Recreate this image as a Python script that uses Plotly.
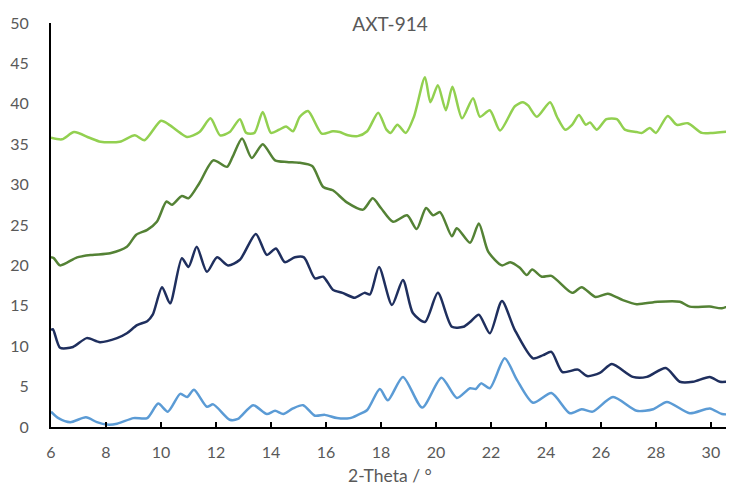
import plotly.graph_objects as go

# Light blue (bottom) series
x_blue = [6.0, 6.27, 6.7, 7.27, 7.67, 8.04, 8.4, 9.0, 9.5, 9.9, 10.25, 10.7, 10.95, 11.2, 11.67, 11.9,
          12.5, 12.8, 13.35, 13.85, 14.15, 14.45, 14.8, 15.17, 15.6, 15.96, 16.4, 16.87, 17.16, 17.5,
          17.96, 18.25, 18.8, 19.5, 20.2, 20.76, 21.24, 21.45, 21.64, 21.96, 22.5, 22.95, 23.53, 24.2,
          24.87, 25.3, 25.7, 26.44, 27.3, 27.9, 28.4, 29.23, 29.96, 30.4, 30.84]
y_blue = [1.9, 1.1, 0.6, 1.2, 0.6, 0.3, 0.4, 1.1, 1.1, 2.9, 1.9, 4.1, 3.7, 4.6, 2.5, 2.8,
          0.9, 1.0, 2.7, 1.6, 2.0, 1.6, 2.3, 2.7, 1.4, 1.5, 1.1, 1.1, 1.5, 2.1,
          4.7, 3.3, 6.2, 2.4, 6.1, 3.6, 4.8, 4.7, 5.4, 4.8, 8.5, 5.8, 3.0, 4.2,
          1.7, 2.2, 1.9, 3.7, 2.0, 2.2, 3.1, 1.7, 2.3, 1.6, 1.6]

# Dark navy series
x_navy = [6.0, 6.07, 6.33, 6.8, 7.3, 7.78, 8.4, 8.76, 9.13, 9.5, 9.7, 10.04, 10.33, 10.76, 11.0, 11.3,
          11.67, 12.04, 12.44, 12.87, 13.45, 13.85, 14.18, 14.5, 14.87, 15.2, 15.6, 15.9, 16.25, 16.6,
          17.05, 17.4, 17.6, 17.93, 18.4, 18.8, 19.16, 19.6, 20.07, 20.58, 21.0, 21.24, 21.56, 21.96,
          22.4, 22.87, 23.53, 23.9, 24.2, 24.6, 25.16, 25.5, 25.96, 26.4, 27.16, 27.67, 28.36, 28.87,
          29.35, 29.96, 30.33, 30.84]
y_navy = [12.0, 12.1, 9.8, 9.9, 11.0, 10.5, 11.0, 11.6, 12.6, 13.1, 13.9, 17.3, 15.3, 20.9, 19.8, 22.3,
          19.2, 21.0, 20.0, 20.7, 23.9, 21.3, 22.1, 20.4, 21.0, 21.0, 18.4, 18.6, 17.0, 16.6,
          16.0, 16.6, 16.4, 19.8, 15.1, 18.2, 14.1, 13.0, 16.6, 12.4, 12.4, 13.0, 13.9, 11.6,
          15.6, 12.0, 8.5, 8.9, 9.3, 6.8, 7.1, 6.3, 6.7, 7.8, 6.2, 6.2, 7.3, 5.6,
          5.6, 6.2, 5.6, 5.7]

# Dark green series
x_dgreen = [6.0, 6.1, 6.33, 6.95, 7.5, 8.15, 8.76, 9.1, 9.5, 9.85, 10.2, 10.4, 10.76, 11.0, 11.4, 11.9,
            12.4, 12.6, 12.95, 13.3, 13.7, 14.15, 14.58, 15.05, 15.5, 15.9, 16.25, 16.76, 17.35, 17.7,
            18.0, 18.44, 18.95, 19.3, 19.64, 19.9, 20.15, 20.58, 20.76, 21.24, 21.56, 21.9, 22.4, 22.7,
            23.05, 23.3, 23.5, 23.85, 24.2, 24.95, 25.3, 25.8, 26.25, 26.8, 27.3, 28.07, 28.87, 29.23,
            29.96, 30.4, 30.84]
y_dgreen = [21.0, 20.9, 20.0, 21.0, 21.3, 21.5, 22.3, 23.8, 24.4, 25.4, 27.9, 27.5, 28.6, 28.3, 30.2, 33.0,
            32.2, 33.4, 35.7, 33.3, 35.0, 33.0, 32.8, 32.7, 32.3, 29.7, 29.3, 27.8, 26.9, 28.3,
            27.1, 25.4, 26.2, 24.5, 27.1, 26.2, 26.6, 23.6, 24.6, 22.8, 25.2, 21.7, 20.0, 20.4,
            19.7, 18.8, 19.5, 18.6, 18.7, 16.6, 17.3, 16.1, 16.5, 15.7, 15.2, 15.5, 15.5, 14.9,
            14.9, 14.7, 15.3]

# Light green (top) series
x_lgreen = [6.0, 6.4, 6.84, 7.4, 7.8, 8.5, 9.05, 9.4, 10.0, 10.3, 10.7, 10.95, 11.4, 11.8, 12.15, 12.5,
            12.87, 13.1, 13.4, 13.7, 14.0, 14.3, 14.55, 14.8, 15.05, 15.35, 15.85, 16.25, 16.5, 16.8,
            17.15, 17.5, 17.9, 18.2, 18.35, 18.6, 18.9, 19.2, 19.6, 19.8, 20.07, 20.36, 20.6, 20.95,
            21.35, 21.6, 21.96, 22.33, 22.87, 23.16, 23.35, 23.67, 24.15, 24.4, 24.7, 24.95, 25.2,
            25.45, 25.6, 25.85, 26.2, 26.58, 26.87, 27.3, 27.5, 27.78, 28.0, 28.43, 28.76, 29.16,
            29.67, 30.07, 30.44, 30.84]
y_lgreen = [35.8, 35.6, 36.5, 35.8, 35.3, 35.3, 36.1, 35.5, 37.9, 37.4, 36.4, 35.9, 36.5, 38.2, 36.1, 36.5,
            38.1, 36.4, 36.4, 39.0, 36.4, 36.8, 37.2, 36.6, 38.4, 39.1, 36.3, 36.6, 36.5, 36.1,
            36.0, 36.6, 38.9, 36.8, 36.4, 37.4, 36.4, 38.4, 43.3, 40.2, 42.3, 39.2, 42.1, 38.2,
            40.7, 38.4, 39.2, 36.7, 39.7, 40.2, 39.8, 38.4, 40.2, 38.4, 36.8, 37.4, 38.6,
            37.4, 37.7, 36.8, 38.1, 38.1, 36.8, 36.5, 36.4, 37.0, 36.4, 38.5, 37.4, 37.6,
            36.4, 36.4, 36.5, 36.6]

x_ticks = [6, 8, 10, 12, 14, 16, 18, 20, 22, 24, 26, 28, 30]
y_ticks = [0, 5, 10, 15, 20, 25, 30, 35, 40, 45, 50]

series = [
    (x_blue, y_blue, "#5B9BD5"),
    (x_navy, y_navy, "#1F2F5E"),
    (x_dgreen, y_dgreen, "#548235"),
    (x_lgreen, y_lgreen, "#92D050"),
]

fig = go.Figure()
for xs, ys, col in series:
    fig.add_trace(go.Scatter(x=xs, y=ys, mode="lines",
                             line=dict(color=col, width=2.5, shape="spline", smoothing=0.7),
                             showlegend=False, hoverinfo="skip"))

# page body has an 8px default margin, so the figure is sized to fit the window
W, H = 726, 485
font_fam = "Lato, 'Open Sans', sans-serif"
fig.update_layout(
    width=W, height=H,
    margin=dict(l=43, r=0, t=15, b=66, autoexpand=False),
    paper_bgcolor="white", plot_bgcolor="white",
    font=dict(family=font_fam, color="#595959", size=16),
    title=dict(text="AXT-914", x=382/W, xanchor="center", xref="container",
               y=1-16/H, yanchor="middle", yref="container",
               font=dict(size=19, color="#595959", family=font_fam)),
    showlegend=False,
    annotations=[dict(text="2-Theta / °", xref="paper", yref="paper",
                      x=(390-51)/683, y=(427-475)/404, xanchor="center", yanchor="middle",
                      showarrow=False, font=dict(size=17.5, color="#595959", family=font_fam))],
)
fig.update_xaxes(range=[6, 30.84], tickvals=x_ticks, ticktext=[str(t) for t in x_ticks],
                 showgrid=False, zeroline=False, showline=True, linecolor="black", linewidth=2,
                 ticks="inside", ticklen=5, tickwidth=1.5, tickcolor="black",
                 ticklabelstandoff=10, automargin=False)
fig.update_yaxes(range=[0, 50], tickvals=y_ticks, ticktext=[str(t) for t in y_ticks],
                 showgrid=False, zeroline=False, showline=True, linecolor="black", linewidth=2,
                 ticks="", ticklabelstandoff=17, automargin=False)

fig.write_html("out.html")
